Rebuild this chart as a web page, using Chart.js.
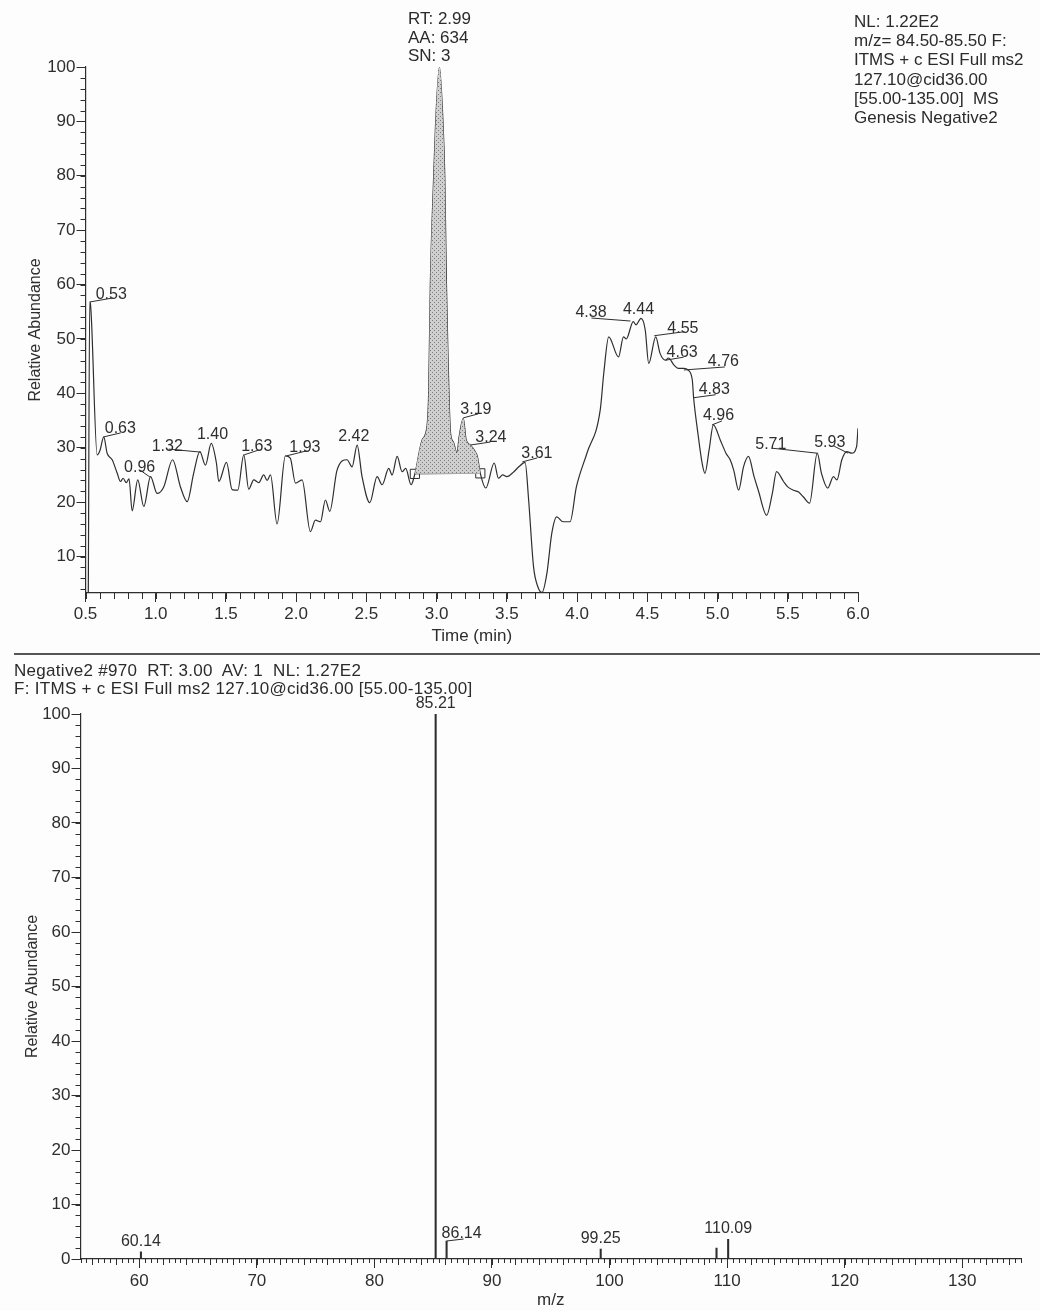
<!DOCTYPE html>
<html>
<head>
<meta charset="utf-8">
<script src="https://cdn.jsdelivr.net/npm/chart.js@4.4.1/dist/chart.umd.min.js"></script>
<style>
    body {
        margin: 0;
        width: 1040px;
        height: 1311px;
        position: relative;
        overflow: hidden;
        background: #fdfdfd;
        font-family: "Liberation Sans", Arial, sans-serif;
        color: #2b2b2b;
    }
    #ticChart { position: absolute; left: 0; top: 0; }
    #msChart { position: absolute; left: 0; top: 655px; }
    .note { position: absolute; font-size: 17px; white-space: pre; }
    #rt-note { left: 408px; top: 10px; line-height: 18.6px; }
    #nl-note { left: 854px; top: 12px; line-height: 19.2px; }
    #ms-head { left: 14px; top: 662px; line-height: 17.5px; letter-spacing: 0.3px; }
    #sep { position: absolute; left: 14px; top: 653px; width: 1026px; height: 2px; background: #555; }
</style>
</head>
<body>
<canvas id="ticChart" width="1040" height="650"></canvas>
<div id="sep"></div>
<canvas id="msChart" width="1040" height="656"></canvas>
<div class="note" id="rt-note">RT: 2.99
AA: 634
SN: 3</div>
<div class="note" id="nl-note">NL: 1.22E2
m/z= 84.50-85.50 F:
ITMS + c ESI Full ms2
127.10@cid36.00
[55.00-135.00]  MS
Genesis Negative2</div>
<div class="note" id="ms-head">Negative2 #970  RT: 3.00  AV: 1  NL: 1.27E2
F: ITMS + c ESI Full ms2 127.10@cid36.00 [55.00-135.00]</div>

<script>
// chromatogram trace (time in min, relative abundance)
const ticTime = [
    0.52, 0.53, 0.535, 0.583, 0.603, 0.63, 0.654, 0.69, 0.726, 0.749, 0.768, 0.79, 0.81, 0.832, 0.872, 0.915,
    0.963, 1.01, 1.057, 1.12, 1.176, 1.224, 1.27, 1.314, 1.354, 1.395, 1.432, 1.449, 1.504, 1.544, 1.584,
    1.627, 1.662, 1.698, 1.734, 1.769, 1.793, 1.817, 1.864, 1.923, 1.958, 1.995, 2.042, 2.101, 2.137, 2.173,
    2.208, 2.239, 2.291, 2.362, 2.398, 2.434, 2.469, 2.524, 2.576, 2.612, 2.659, 2.683, 2.719, 2.754, 2.78,
    2.818, 2.845, 2.896, 2.931, 2.943, 2.955, 2.979, 2.993, 3.02, 3.045, 3.058, 3.07, 3.08, 3.09, 3.10, 3.12,
    3.145, 3.16, 3.19, 3.21, 3.24, 3.27, 3.29, 3.311, 3.35, 3.41, 3.44, 3.47, 3.50, 3.55, 3.585, 3.63, 3.655,
    3.69, 3.72, 3.75, 3.785, 3.82, 3.855, 3.90, 3.95, 3.995, 4.07, 4.165, 4.19, 4.225, 4.295, 4.33, 4.35,
    4.40, 4.42, 4.455, 4.485, 4.51, 4.56, 4.59, 4.63, 4.65, 4.69, 4.72, 4.76, 4.79, 4.82, 4.83, 4.86, 4.89,
    4.91, 4.94, 4.97, 5.02, 5.06, 5.09, 5.115, 5.15, 5.185, 5.22, 5.26, 5.29, 5.35, 5.39, 5.42, 5.47, 5.50,
    5.54, 5.575, 5.61, 5.655, 5.71, 5.74, 5.785, 5.825, 5.85, 5.885, 5.92, 5.955, 5.99, 6.0
];
const ticAbund = [
    3.5, 56.8, 56.5, 28.7, 29.5, 32.0, 29.0, 27.8, 25.3, 23.8, 24.4, 23.6, 24.3, 18.4, 24.1, 19.2,
    24.7, 21.6, 22.8, 27.8, 22.8, 20.1, 25.3, 29.3, 26.8, 30.8, 27.2, 23.8, 27.3, 22.3, 22.2,
    28.7, 22.4, 24.1, 23.6, 25.0, 24.0, 25.0, 16.0, 28.5, 28.1, 23.5, 24.1, 14.6, 16.7, 16.4,
    20.4, 18.3, 25.9, 27.8, 26.5, 30.5, 24.7, 19.9, 24.7, 23.2, 26.2, 25.0, 28.4, 25.6, 26.2,
    23.2, 25.2, 31.4, 33.9, 40, 60, 80, 90, 100, 90, 80, 60, 48, 38, 32.5, 31.0,
    29.0, 32.0, 35.4, 31.5, 30.5, 29.5, 28.4, 25.3, 22.6, 27.2, 24.4, 25.0, 24.7, 25.6, 26.5, 27.3, 20.4,
    8.1, 4.5, 3.4, 6.9, 14.3, 17.3, 16.4, 16.4, 22.8, 29.0, 37.0, 43.7, 50.4, 46.7, 50.4, 50.0,
    53.2, 52.6, 53.8, 51.7, 45.5, 50.4, 47.4, 46.1, 46.5, 45.2, 44.6, 44.6, 44.3, 42.5, 39.1, 32.7, 27.2,
    25.3, 29.6, 34.2, 31.4, 29.0, 27.8, 25.9, 22.2, 26.5, 28.4, 24.7, 22.2, 17.6, 21.6, 25.6, 23.8, 22.8,
    22.2, 21.9, 21.0, 19.8, 29.0, 25.3, 22.6, 24.7, 24.1, 27.8, 29.3, 29.0, 30.2, 33.6
];

// integrated peak: start / end of the baseline
const areaTime = [2.845, 3.311];
const areaBase = [25.2, 25.3];

// labelled retention times and the abundance where each label points
const peakRT = [0.53, 0.63, 0.96, 1.32, 1.40, 1.63, 1.93, 2.42, 3.19, 3.24, 3.61,
    4.38, 4.44, 4.55, 4.63, 4.76, 4.83, 4.96, 5.71, 5.93];
const peakAbund = [56.8, 32.0, 24.6, 29.2, 30.9, 28.7, 28.5, 30.5, 35.5, 30.5, 27.4,
    53.3, 53.9, 50.6, 46.1, 44.3, 39.2, 34.2, 29.0, 29.0];

const ticYTicks = [10, 20, 30, 40, 50, 60, 70, 80, 90, 100];
const ticXTicks = [0.5, 1.0, 1.5, 2.0, 2.5, 3.0, 3.5, 4.0, 4.5, 5.0, 5.5, 6.0];

// MS2 spectrum
const msMz = [60.14, 85.21, 86.14, 99.25, 109.10, 110.09];
const msAbund = [1.3, 100, 3.3, 1.8, 2.0, 3.6];
const msLabelMz = [60.14, 85.21, 86.14, 99.25, 110.09];
const msLabelAbund = [1.3, 100, 3.3, 1.8, 3.6];

const msYTicks = [0, 10, 20, 30, 40, 50, 60, 70, 80, 90, 100];
const msXTicks = [60, 70, 80, 90, 100, 110, 120, 130];

const ink = '#2e2e2e';
const tickFont = { family: '"Liberation Sans", Arial, sans-serif', size: 17 };

// label offsets [text dx, text dy, leader dx, leader dy]; null = centred above
const ticLabelOffsets = [
    [6, -3, 23, -4], [1, -4, 17, -4], [-26, -5, -10, -7], [-49, -1, -32, -3], [-15, -4, 0, 0],
    [-3, -4, 15, -5], [3, -4, 20, -5], [-17, -4, 0, 0], [-3, -4, 15, -4], [5, -3, 20, -3],
    [-1, -4, 15, -4], [-55, -4, -39, -3], [-16, -4, 0, 0], [13, -3, 30, -4], [1, -3, 18, -3],
    [24, -4, 41, -3], [5, -4, 22, -3], [-9, -5, 10, -4], [-62, -4, -45, -5], [-34, -6, -14, -7]
];
const msLabelOffsets = [null, null, [-5, -3, 17, -2], null, null];

// gray dotted fill like the printed integration area
function dotPattern() {
    const c = document.createElement('canvas');
    c.width = 4; c.height = 4;
    const g = c.getContext('2d');
    g.fillStyle = '#cfcfcf';
    g.fillRect(0, 0, 4, 4);
    g.fillStyle = '#7d7d7d';
    g.fillRect(0, 0, 1, 1);
    g.fillRect(2, 2, 1, 1);
    return g.createPattern(c, 'repeat');
}

const minorTicks = {
    id: 'minorTicks',
    afterDraw(chart, args, opts) {
        const { ctx, chartArea: a, scales: { x, y } } = chart;
        ctx.save();
        ctx.strokeStyle = ink;
        ctx.lineWidth = 1;
        ctx.beginPath();
        (opts.x || []).forEach(([step, len]) => {
            for (let n = Math.ceil(x.min / step - 1e-6); n * step <= x.max + 1e-6; n++) {
                const px = Math.round(x.getPixelForValue(n * step)) + 0.5;
                ctx.moveTo(px, a.bottom);
                ctx.lineTo(px, a.bottom + len);
            }
        });
        (opts.y || []).forEach(([step, len]) => {
            for (let n = Math.ceil(y.min / step - 1e-6); n * step <= y.max + 1e-6; n++) {
                const py = Math.round(y.getPixelForValue(n * step)) + 0.5;
                ctx.moveTo(a.left, py);
                ctx.lineTo(a.left - len, py);
            }
        });
        ctx.stroke();
        ctx.restore();
    }
};

const peakLabels = {
    id: 'peakLabels',
    afterDatasetsDraw(chart, args, opts) {
        const { ctx, scales: { x, y } } = chart;
        ctx.save();
        ctx.font = '16px "Liberation Sans", Arial, sans-serif';
        ctx.fillStyle = ink;
        ctx.strokeStyle = ink;
        ctx.lineWidth = 1;
        ctx.textBaseline = 'alphabetic';
        opts.xs.forEach((v, i) => {
            const px = x.getPixelForValue(v);
            const py = y.getPixelForValue(opts.ys[i]);
            const txt = v.toFixed(2);
            const off = opts.offsets[i];
            if (!off) {
                ctx.textAlign = 'center';
                ctx.fillText(txt, px, py - 6);
                return;
            }
            ctx.textAlign = 'left';
            ctx.fillText(txt, px + off[0], py + off[1]);
            if (off[2] || off[3]) {
                ctx.beginPath();
                ctx.moveTo(px, py);
                ctx.lineTo(px + off[2], py + off[3]);
                ctx.stroke();
            }
        });
        ctx.restore();
    }
};

function axisBase(ticks, fmt, tickLen, pad) {
    return {
        type: 'linear',
        afterBuildTicks: s => { s.ticks = ticks.map(v => ({ value: v })); },
        grid: { display: true, drawOnChartArea: false, drawTicks: true, tickLength: tickLen, color: ink, lineWidth: 1 },
        border: { display: true, color: ink, width: 1.2 },
        ticks: { color: ink, font: tickFont, padding: pad, autoSkip: false, maxRotation: 0, callback: fmt }
    };
}

// ---- chromatogram ----
const ticPoints = ticTime.map((t, i) => ({ x: t, y: ticAbund[i] }));
const areaPoints = ticPoints.filter(p => p.x >= areaTime[0] && p.x <= areaTime[1]);

const ticX = axisBase(ticXTicks, v => v.toFixed(1), 9, 2);
ticX.min = 0.5; ticX.max = 6.0;
ticX.afterFit = s => { s.height = 57; };
ticX.title = { display: true, text: 'Time (min)', color: ink, font: { size: 17 }, padding: { top: 0, bottom: 3 } };

const ticY = axisBase(ticYTicks, v => String(v), 9, 1);
ticY.min = 3.3; ticY.max = 100;
ticY.afterFit = s => { s.width = 85.5; };
ticY.title = { display: true, text: 'Relative Abundance', color: ink, font: { size: 16 }, padding: { top: 26, bottom: 0 } };

new Chart(document.getElementById('ticChart'), {
    type: 'line',
    data: {
        datasets: [
            {
                data: areaPoints,
                borderWidth: 0,
                pointRadius: 0,
                cubicInterpolationMode: 'monotone',
                backgroundColor: dotPattern(),
                fill: { value: 25.2 }
            },
            {
                data: ticPoints,
                borderColor: ink,
                borderWidth: 1.2,
                pointRadius: 0,
                cubicInterpolationMode: 'monotone',
                fill: false
            },
            {
                data: areaTime.map((t, i) => ({ x: t, y: areaBase[i] })),
                borderColor: ink,
                borderWidth: 1,
                pointStyle: 'rect',
                pointRadius: 6.5,
                pointBorderColor: ink,
                pointBorderWidth: 1,
                pointBackgroundColor: 'rgba(0,0,0,0)',
                fill: false
            }
        ]
    },
    options: {
        responsive: false,
        animation: false,
        layout: { padding: { top: 67, right: 182, left: 0, bottom: 0 } },
        plugins: {
            legend: { display: false },
            tooltip: { enabled: false },
            minorTicks: { x: [[0.1, 6]], y: [[2, 5]] },
            peakLabels: { xs: peakRT, ys: peakAbund, offsets: ticLabelOffsets }
        },
        scales: { x: ticX, y: ticY }
    },
    plugins: [minorTicks, peakLabels]
});

// ---- MS2 spectrum ----
const msX = axisBase(msXTicks, v => String(v), 9, 3);
msX.min = 55; msX.max = 135;
msX.offset = false;
msX.grid.offset = false;
msX.afterFit = s => { s.height = 52; };
msX.title = { display: true, text: 'm/z', color: ink, font: { size: 17 }, padding: { top: 0, bottom: 0 } };

const msY = axisBase(msYTicks, v => String(v), 9, 1);
msY.min = 0; msY.max = 100;
msY.afterFit = s => { s.width = 80.5; };
msY.title = { display: true, text: 'Relative Abundance', color: ink, font: { size: 16 }, padding: { top: 23, bottom: 0 } };

new Chart(document.getElementById('msChart'), {
    type: 'bar',
    data: {
        datasets: [{
            data: msMz.map((m, i) => ({ x: m, y: msAbund[i] })),
            backgroundColor: ink,
            barThickness: 1.4,
            grouped: false
        }]
    },
    options: {
        responsive: false,
        animation: false,
        layout: { padding: { top: 59, right: 19, left: 0, bottom: 0 } },
        plugins: {
            legend: { display: false },
            tooltip: { enabled: false },
            minorTicks: { x: [[0.5, 4], [2, 6]], y: [[2, 5]] },
            peakLabels: { xs: msLabelMz, ys: msLabelAbund, offsets: msLabelOffsets }
        },
        scales: { x: msX, y: msY }
    },
    plugins: [minorTicks, peakLabels]
});
</script>
</body>
</html>
